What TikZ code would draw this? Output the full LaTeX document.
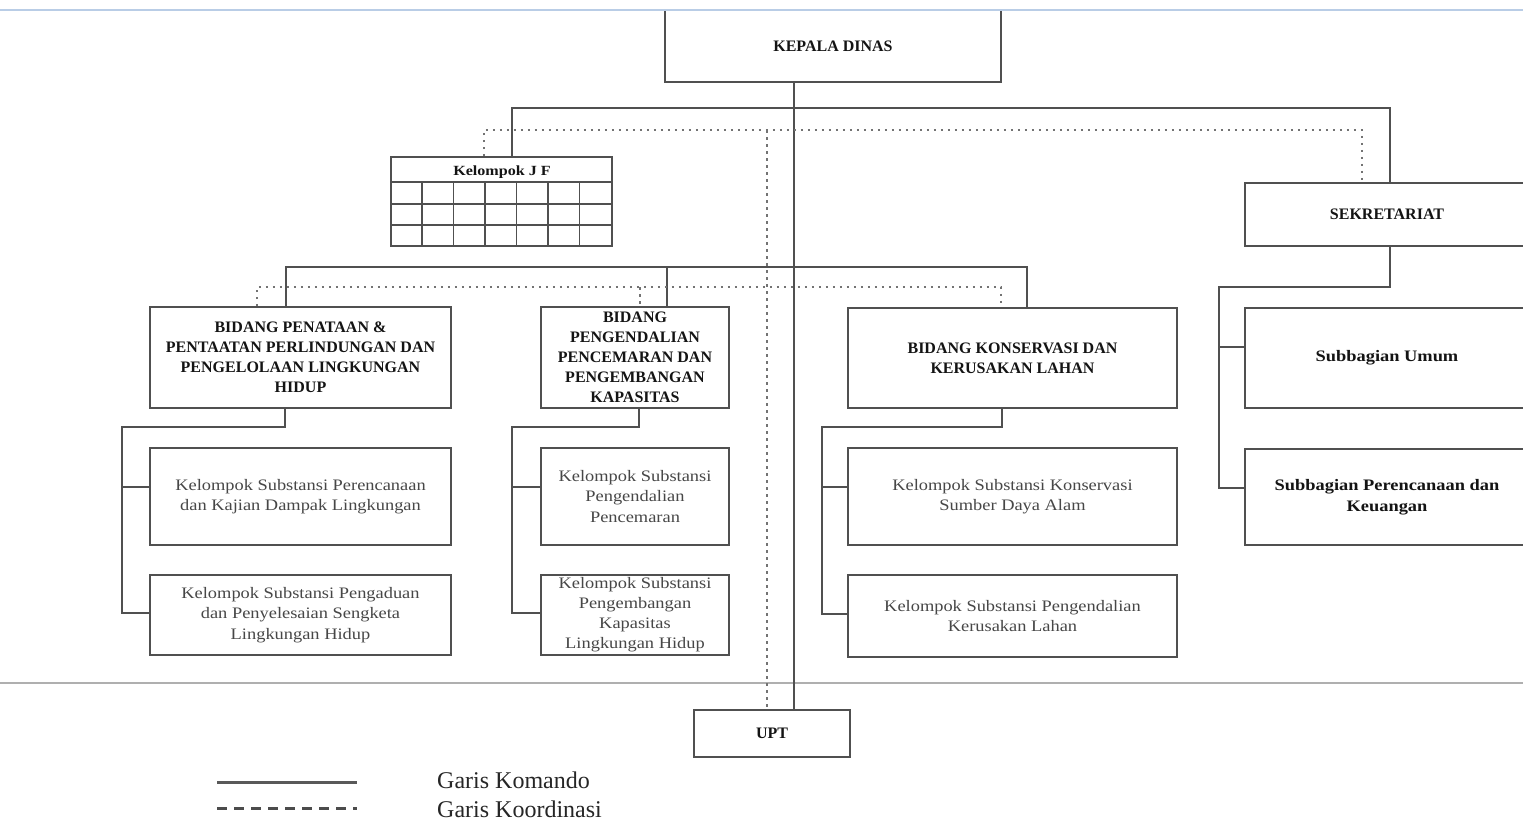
\documentclass[tikz,border=0pt]{standalone}
\usepackage{fontspec}
\setmainfont{Liberation Serif}
\newfontfamily\widefont[FakeStretch=1.15]{Liberation Serif}
\definecolor{linec}{RGB}{80,80,80}
\definecolor{dotc}{RGB}{115,115,115}
\definecolor{scanblue}{RGB}{185,205,230}
\definecolor{scangray}{RGB}{175,175,175}
\begin{document}
\begin{tikzpicture}[x=1pt,y=-1pt,
 box/.style={draw=linec,line width=1.6pt,fill=white,inner sep=0pt,align=center},
 capbox/.style={box,font=\fontsize{16}{20}\selectfont\bfseries,text=black!92},
 subbox/.style={box,font=\widefont\fontsize{16}{20.5}\selectfont,text=black!72},
 boldsub/.style={box,font=\widefont\fontsize{16}{20.5}\selectfont\bfseries,text=black!92},
 cmd/.style={draw=linec,line width=1.6pt},
 koord/.style={draw=dotc,line width=1.6pt,dash pattern=on 2.5pt off 4.5pt},
 legtext/.style={anchor=west,font=\fontsize{24}{26}\selectfont,text=black!85,inner sep=0pt},
]
\path[use as bounding box] (0,0) rectangle (1523,823);
\clip (0,0) rectangle (1523,823);
\fill[white] (0,0) rectangle (1523,823);

% scan rules
\draw[scangray,line width=2pt] (0,683) -- (1523,683);

% ---------- nodes ----------
\node[capbox,minimum width=336pt,minimum height=72pt] (kepala) at (833,46) {KEPALA DINAS};

\node[box,minimum width=221pt,minimum height=89pt] (jf) at (501.5,201.5) {};
\node[font=\widefont\fontsize{14}{16}\selectfont\bfseries,text=black!92,inner sep=0pt] (jft) at (502,172) {Kelompok J F};

\node[capbox,minimum width=284pt,minimum height=63pt] (sek) at (1387,214.5) {SEKRETARIAT};
\node[boldsub,minimum width=284pt,minimum height=100pt] (umum) at (1387,358) {Subbagian Umum};
\node[boldsub,minimum width=284pt,minimum height=96pt] (renc) at (1387,497) {Subbagian Perencanaan dan\\Keuangan};

\node[capbox,minimum width=301pt,minimum height=101pt] (b1) at (300.5,357.5)
  {BIDANG PENATAAN \&\\PENTAATAN PERLINDUNGAN DAN\\PENGELOLAAN LINGKUNGAN\\HIDUP};
\node[capbox,minimum width=188pt,minimum height=101pt] (b2) at (635,357.5)
  {BIDANG\\PENGENDALIAN\\PENCEMARAN DAN\\PENGEMBANGAN\\KAPASITAS};
\node[capbox,minimum width=329pt,minimum height=100pt] (b3) at (1012.5,358)
  {BIDANG KONSERVASI DAN\\KERUSAKAN LAHAN};

\node[subbox,minimum width=301pt,minimum height=97pt] (b1a) at (300.5,496.5)
  {Kelompok Substansi Perencanaan\\dan Kajian Dampak Lingkungan};
\node[subbox,minimum width=301pt,minimum height=80pt] (b1b) at (300.5,615)
  {Kelompok Substansi Pengaduan\\dan Penyelesaian Sengketa\\Lingkungan Hidup};
\node[subbox,minimum width=188pt,minimum height=97pt] (b2a) at (635,496.5)
  {Kelompok Substansi\\Pengendalian\\Pencemaran};
\node[subbox,minimum width=188pt,minimum height=80pt,font=\widefont\fontsize{16}{20}\selectfont] (b2b) at (635,615)
  {Kelompok Substansi\\Pengembangan\\Kapasitas\\Lingkungan Hidup};
\node[subbox,minimum width=329pt,minimum height=97pt] (b3a) at (1012.5,496.5)
  {Kelompok Substansi Konservasi\\Sumber Daya Alam};
\node[subbox,minimum width=329pt,minimum height=82pt] (b3b) at (1012.5,616)
  {Kelompok Substansi Pengendalian\\Kerusakan Lahan};

\node[capbox,minimum width=156pt,minimum height=47pt] (upt) at (772,733.5) {UPT};

% grid of Kelompok J F
\draw[cmd] ([yshift=-26pt]jf.north west) -- ([yshift=-26pt]jf.north east);
\draw[cmd] ([yshift=-48pt]jf.north west) -- ([yshift=-48pt]jf.north east);
\draw[cmd] ([yshift=-69pt]jf.north west) -- ([yshift=-69pt]jf.north east);
\foreach \k in {1,...,6}{
  \draw[cmd] ([xshift={\k*221/7*1pt},yshift=-26pt]jf.north west) -- ([xshift={\k*221/7*1pt}]jf.south west);
}

% ---------- coordinates ----------
\coordinate (sp) at (794,0);
\coordinate (dsp) at (767,0);
\coordinate (busA) at (512,108);
\coordinate (busB) at (1390,108);
\coordinate (dotA) at (484,130);
\coordinate (dotB) at (1362,130);
\coordinate (busC) at (286,267);
\coordinate (busD) at (1027,267);
\coordinate (busE) at (667,267);
\coordinate (dotC) at (257,287);
\coordinate (dotD) at (1001,287);
\coordinate (dotE) at (640,287);

% ---------- command lines ----------
\draw[cmd] (sp |- kepala.south) -- (sp |- upt.north);
\draw[cmd] (busA |- jf.north) -- (busA) -- (busB) -- (busB |- sek.north);
\draw[cmd] (busC |- b1.north) -- (busC) -- (busD) -- (busD |- b3.north);
\draw[cmd] (busE) -- (busE |- b2.north);

% ---------- coordination lines ----------
\draw[koord] (dotA |- jf.north) -- (dotA) -- (dotB) -- (dotB |- sek.north);
\draw[koord] (dotC |- b1.north) -- (dotC) -- (dotD) -- (dotD |- b3.north);
\draw[koord] (dotE) -- (dotE |- b2.north);
\draw[koord] (dsp |- dotA) -- (dsp |- upt.north);

% ---------- sub trees ----------
\coordinate (b1ain) at ([yshift=9.5pt]b1a.west);
\coordinate (b1bin) at ([yshift=2pt]b1b.west);
\coordinate (b2ain) at ([yshift=9.5pt]b2a.west);
\coordinate (b2bin) at ([yshift=2pt]b2b.west);
\coordinate (b3ain) at ([yshift=9.5pt]b3a.west);
\coordinate (b3bin) at ([yshift=2pt]b3b.west);
\coordinate (umin) at ([yshift=11pt]umum.west);
\coordinate (rein) at ([yshift=9pt]renc.west);

\coordinate (t1) at (285,427);  \coordinate (l1) at (122,427);
\coordinate (t2) at (639,427);  \coordinate (l2) at (512,427);
\coordinate (t3) at (1002,427); \coordinate (l3) at (822,427);
\coordinate (ts) at (1390,287); \coordinate (ls) at (1219,287);

\draw[cmd] (t1 |- b1.south) -- (t1) -- (l1) -- (l1 |- b1bin) -- (b1bin);
\draw[cmd] (l1 |- b1ain) -- (b1ain);
\draw[cmd] (t2 |- b2.south) -- (t2) -- (l2) -- (l2 |- b2bin) -- (b2bin);
\draw[cmd] (l2 |- b2ain) -- (b2ain);
\draw[cmd] (t3 |- b3.south) -- (t3) -- (l3) -- (l3 |- b3bin) -- (b3bin);
\draw[cmd] (l3 |- b3ain) -- (b3ain);
\draw[cmd] (ts |- sek.south) -- (ts) -- (ls) -- (ls |- rein) -- (rein);
\draw[cmd] (ls |- umin) -- (umin);

% top scan rule
\draw[scanblue,line width=2pt] (0,10) -- (1523,10);

% ---------- legend ----------
\coordinate (lg1a) at (217,782); \coordinate (lg1b) at (357,782);
\coordinate (lg2a) at (217,808); \coordinate (lg2b) at (357,808);
\draw[draw=black!65,line width=3pt] (lg1a) -- (lg1b);
\draw[draw=black!70,line width=3pt,dash pattern=on 10pt off 7pt] (lg2a) -- (lg2b);
\node[legtext] (lgt1) at (437,780) {Garis Komando};
\node[legtext] (lgt2) at (437,809) {Garis Koordinasi};
\end{tikzpicture}
\end{document}
